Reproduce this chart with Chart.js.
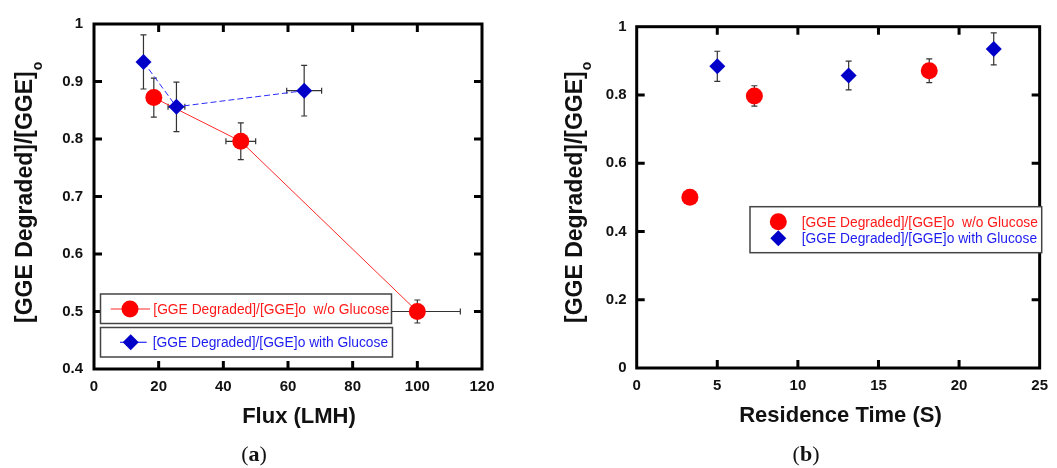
<!DOCTYPE html>
<html>
<head>
<meta charset="utf-8">
<script src="https://cdn.jsdelivr.net/npm/chart.js@4"></script>
<style>
  body { margin: 0; background: #fff; width: 1057px; height: 468px; position: relative; overflow: hidden; }
  #chartA { position: absolute; left: 0; top: 0; }
  #chartB { position: absolute; left: 530px; top: 0; }
  .cap { position: absolute; top: 441px; font: 22px "Liberation Serif", serif; color: #111; transform: translateX(-50%); }
</style>
</head>
<body>
<canvas id="chartA" width="530" height="468"></canvas>
<canvas id="chartB" width="527" height="468"></canvas>
<div class="cap" style="left:254px">(<b>a</b>)</div>
<div class="cap" style="left:806px">(<b>b</b>)</div>
<script>
// (a) degradation vs flux
const fluxRed = [18.5, 45.4, 100];
const fluxRedErr = [0, 4.6, 13.3];
const ratioRed = [0.872, 0.796, 0.5];
const ratioRedErr = [0.034, 0.032, 0.02];
const fluxBlue = [15.3, 25.5, 65.0];
const fluxBlueErr = [0, 2.6, 5.4];
const ratioBlue = [0.934, 0.856, 0.884];
const ratioBlueErr = [0.047, 0.043, 0.044];
const fluxTicks = [0, 20, 40, 60, 80, 100, 120];
const ratioTicksA = [0.4, 0.5, 0.6, 0.7, 0.8, 0.9, 1];

// (b) degradation vs residence time
const timeRed = [3.3, 7.3, 18.15];
const ratioRedB = [0.5, 0.797, 0.871];
const ratioRedErrB = [0.02, 0.03, 0.035];
const timeBlue = [5.0, 13.15, 22.15];
const ratioBlueB = [0.884, 0.857, 0.935];
const ratioBlueErrB = [0.044, 0.042, 0.047];
const timeTicks = [0, 5, 10, 15, 20, 25];
const ratioTicksB = [0, 0.2, 0.4, 0.6, 0.8, 1];

const labelRed = '[GGE Degraded]/[GGE]o  w/o Glucose';
const labelBlue = '[GGE Degraded]/[GGE]o with Glucose';

const pts = (xs, ys) => xs.map((v, i) => ({ x: v, y: ys[i] }));

const errorBars = {
  id: 'errorBars',
  beforeDatasetsDraw(chart) {
    const { ctx, scales: { x, y } } = chart;
    ctx.save();
    ctx.strokeStyle = '#333';
    ctx.lineWidth = 1.2;
    chart.data.datasets.forEach(ds => {
      ds.data.forEach((p, i) => {
        const px = x.getPixelForValue(p.x), py = y.getPixelForValue(p.y);
        const dy = ds.yErr ? ds.yErr[i] : 0;
        const dx = ds.xErr ? ds.xErr[i] : 0;
        ctx.beginPath();
        if (dy) {
          const y1 = y.getPixelForValue(p.y + dy), y2 = y.getPixelForValue(p.y - dy);
          ctx.moveTo(px, y1); ctx.lineTo(px, y2);
          ctx.moveTo(px - 3, y1); ctx.lineTo(px + 3, y1);
          ctx.moveTo(px - 3, y2); ctx.lineTo(px + 3, y2);
        }
        if (dx) {
          const x1 = x.getPixelForValue(p.x - dx), x2 = x.getPixelForValue(p.x + dx);
          ctx.moveTo(x1, py); ctx.lineTo(x2, py);
          ctx.moveTo(x1, py - 3); ctx.lineTo(x1, py + 3);
          ctx.moveTo(x2, py - 3); ctx.lineTo(x2, py + 3);
        }
        ctx.stroke();
      });
    });
    ctx.restore();
  }
};

const frame = {
  id: 'frame',
  afterDatasetsDraw(chart) {
    const { ctx, chartArea: a, scales: { x, y } } = chart;
    ctx.save();
    ctx.strokeStyle = '#000';
    ctx.lineWidth = 3;
    ctx.strokeRect(a.left, a.top, a.right - a.left, a.bottom - a.top);
    ctx.beginPath();
    x.ticks.forEach(t => {
      const p = x.getPixelForValue(t.value);
      if (p <= a.left + 2 || p >= a.right - 2) return;
      ctx.moveTo(p, a.bottom); ctx.lineTo(p, a.bottom - 8);
      ctx.moveTo(p, a.top); ctx.lineTo(p, a.top + 8);
    });
    y.ticks.forEach(t => {
      const p = y.getPixelForValue(t.value);
      if (p <= a.top + 2 || p >= a.bottom - 2) return;
      ctx.moveTo(a.left, p); ctx.lineTo(a.left + 8, p);
      ctx.moveTo(a.right, p); ctx.lineTo(a.right - 8, p);
    });
    ctx.stroke();
    ctx.restore();
  }
};

function marker(ctx, style, x, y, r, color) {
  ctx.fillStyle = color;
  ctx.beginPath();
  if (style === 'circle') {
    ctx.arc(x, y, r, 0, Math.PI * 2);
  } else {
    ctx.moveTo(x - r, y); ctx.lineTo(x, y - r); ctx.lineTo(x + r, y); ctx.lineTo(x, y + r);
    ctx.closePath();
  }
  ctx.fill();
}

const annot = {
  id: 'annot',
  afterDraw(chart, args, o) {
    const ctx = chart.ctx;
    ctx.save();
    ctx.fillStyle = '#111';
    ctx.font = 'bold 22px Arial, "Liberation Sans"';
    ctx.textAlign = 'center';
    ctx.textBaseline = 'alphabetic';
    ctx.fillText(o.xTitle, o.xTitleX, o.xTitleY);

    ctx.save();
    ctx.translate(o.yTitleX, o.yTitleY);
    ctx.rotate(-Math.PI / 2);
    ctx.textAlign = 'left';
    ctx.font = 'bold 23px Arial, "Liberation Sans"';
    ctx.fillText(o.yTitle, 0, 0);
    const w = ctx.measureText(o.yTitle).width;
    ctx.font = 'bold 14px Arial, "Liberation Sans"';
    ctx.fillText(o.ySub, w + 1, o.subShift);
    ctx.restore();

    const lg = o.legend;
    ctx.strokeStyle = '#444';
    ctx.lineWidth = 1.5;
    lg.boxes.forEach(b => {
      ctx.fillStyle = '#fff';
      ctx.fillRect(b[0], b[1], b[2], b[3]);
      ctx.strokeRect(b[0], b[1], b[2], b[3]);
    });
    ctx.font = '13.8px Arial, "Liberation Sans"';
    ctx.textAlign = 'left';
    ctx.textBaseline = 'middle';
    chart.data.datasets.forEach((ds, i) => {
      const yy = lg.rows[i];
      if (lg.lines) {
        ctx.strokeStyle = ds.borderColor;
        ctx.lineWidth = 1.2;
        ctx.beginPath();
        ctx.moveTo(lg.lineFrom[i], yy); ctx.lineTo(lg.lineTo[i], yy);
        ctx.stroke();
      }
      marker(ctx, ds.pointStyle, lg.markerX[i], yy, ds.pointRadius, ds.backgroundColor);
      ctx.fillStyle = ds.textColor;
      ctx.fillText(ds.label, lg.textX[i], yy + 1);
    });
    ctx.restore();
  }
};

function axis(min, max, ticks, size, padding, vertical) {
  return {
    type: 'linear', min, max,
    afterBuildTicks: s => { s.ticks = ticks.map(v => ({ value: v })); },
    afterFit: s => { if (vertical) s.width = size; else s.height = size; },
    ticks: {
      callback: v => String(v),
      color: '#111',
      padding,
      font: { family: 'Arial, "Liberation Sans"', size: 15, weight: 'bold' }
    },
    grid: { display: false, drawTicks: false },
    border: { display: false }
  };
}

function redSet(xs, ys, xe, ye, line) {
  return {
    label: labelRed, data: pts(xs, ys), xErr: xe, yErr: ye,
    showLine: line, borderColor: '#ff2a2a', borderWidth: 1,
    backgroundColor: '#ff0000', pointBorderWidth: 0,
    pointStyle: 'circle', pointRadius: 8.5, textColor: '#ff1a1a', order: 1
  };
}

function blueSet(xs, ys, xe, ye, line) {
  return {
    label: labelBlue, data: pts(xs, ys), xErr: xe, yErr: ye,
    showLine: line, borderColor: '#2a2aff', borderWidth: 1, borderDash: [6, 3],
    backgroundColor: '#0000c8', pointBorderWidth: 0,
    pointStyle: 'rectRot', pointRadius: 8, textColor: '#1c1cf0', order: 0
  };
}

new Chart(document.getElementById('chartA'), {
  type: 'scatter',
  data: {
    datasets: [
      redSet(fluxRed, ratioRed, fluxRedErr, ratioRedErr, true),
      blueSet(fluxBlue, ratioBlue, fluxBlueErr, ratioBlueErr, true)
    ]
  },
  options: {
    responsive: false,
    animation: false,
    layout: { padding: { left: 0, top: 24, right: 48, bottom: 0 } },
    scales: {
      x: axis(0, 120, fluxTicks, 99, 9, false),
      y: axis(0.4, 1, ratioTicksA, 94, 11, true)
    },
    plugins: {
      legend: { display: false },
      tooltip: { enabled: false },
      annot: {
        xTitle: 'Flux (LMH)', xTitleX: 299, xTitleY: 423,
        yTitle: '[GGE Degraded]/[GGE]', ySub: 'o', yTitleX: 32, yTitleY: 323, subShift: 10,
        legend: {
          boxes: [[100.5, 294, 291, 29.5], [100.5, 327.5, 292, 29.5]],
          rows: [309, 342.3], lines: true,
          lineFrom: [110.7, 120], lineTo: [150, 146.7],
          markerX: [130, 130.7], textX: [153.3, 152.7]
        }
      }
    }
  },
  plugins: [errorBars, frame, annot]
});

new Chart(document.getElementById('chartB'), {
  type: 'scatter',
  data: {
    datasets: [
      redSet(timeRed, ratioRedB, null, ratioRedErrB, false),
      blueSet(timeBlue, ratioBlueB, null, ratioBlueErrB, false)
    ]
  },
  options: {
    responsive: false,
    animation: false,
    layout: { padding: { left: 0, top: 26.7, right: 13, bottom: 0 } },
    scales: {
      x: axis(0, 25, timeTicks, 100, 9, false),
      y: axis(0, 1, ratioTicksB, 106.7, 10, true)
    },
    plugins: {
      legend: { display: false },
      tooltip: { enabled: false },
      annot: {
        xTitle: 'Residence Time (S)', xTitleX: 310.5, xTitleY: 421.7,
        yTitle: '[GGE Degraded]/[GGE]', ySub: 'o', yTitleX: 51.5, yTitleY: 323, subShift: 9,
        legend: {
          boxes: [[220, 206.7, 291.7, 46]],
          rows: [221.7, 238.3], lines: false,
          markerX: [248.3, 248.3], textX: [271.7, 271.7]
        }
      }
    }
  },
  plugins: [errorBars, frame, annot]
});
</script>
</body>
</html>
